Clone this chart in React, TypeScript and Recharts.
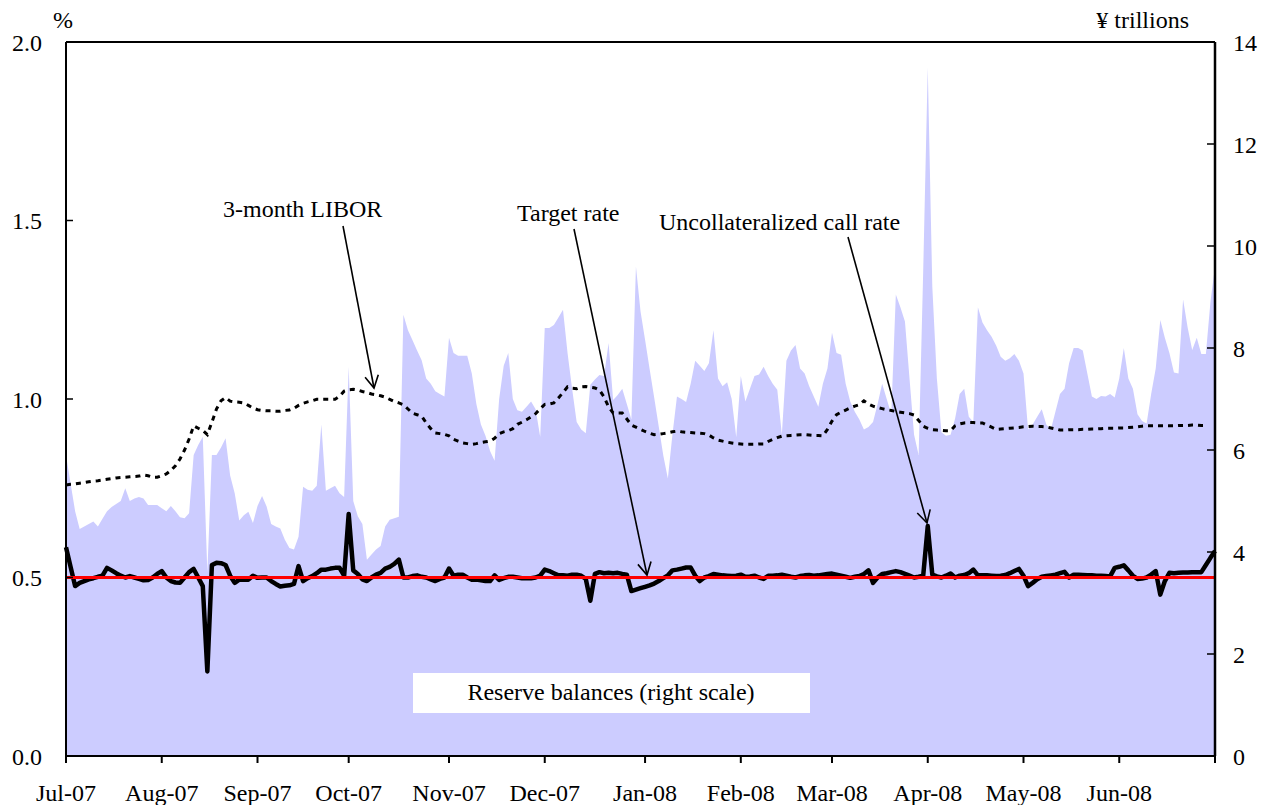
import { ComposedChart, Area, Line, XAxis, YAxis, ReferenceLine } from "recharts"

// month ticks (business-day index where each month starts)
const monthLabels = [
  "Jul-07", "Aug-07", "Sep-07", "Oct-07", "Nov-07", "Dec-07",
  "Jan-08", "Feb-08", "Mar-08", "Apr-08", "May-08", "Jun-08",
]
const monthStartIndex = [0, 21, 42, 62, 84, 105, 127, 148, 168, 189, 210, 231]
const lastIndex = 252

const percentTicks = [0, 0.5, 1, 1.5, 2]
const trillionTicks = [0, 2, 4, 6, 8, 10, 12, 14]

const TARGET_RATE = 0.5

// reserve balances, ¥ trillions (right scale)
const reserveBalances = [
  5.9, 5.35, 4.8, 4.45, 4.5, 4.55, 4.6, 4.5, 4.65, 4.8,
  4.88, 4.94, 5.0, 5.25, 5.0, 5.05, 5.08, 5.05, 4.92, 4.92,
  4.92, 4.86, 4.8, 4.9, 4.8, 4.68, 4.66, 4.76, 5.9, 6.1,
  6.26, 3.6, 5.9, 5.9, 6.05, 6.23, 5.5, 5.15, 4.62, 4.72,
  4.79, 4.57, 4.9, 5.1, 4.89, 4.55, 4.5, 4.46, 4.24, 4.08,
  4.05, 4.3, 5.28, 5.22, 5.2, 5.3, 6.5, 5.2, 5.25, 5.3,
  5.15, 5.08, 7.63, 5.0, 4.7, 4.55, 3.85, 3.95, 4.05, 4.12,
  4.5, 4.63, 4.66, 4.69, 8.65, 8.35, 8.15, 7.95, 7.76, 7.4,
  7.3, 7.15, 7.1, 7.05, 8.2, 7.9, 7.85, 7.85, 7.85, 7.5,
  6.9, 6.5, 6.28, 5.98, 5.79, 7.0, 7.65, 7.9, 7.0, 6.78,
  6.75, 6.85, 6.95, 6.8, 6.26, 8.39, 8.39, 8.45, 8.6, 8.75,
  7.9, 7.2, 6.55, 6.4, 6.33, 7.28, 7.38, 7.47, 7.45, 8.1,
  6.98, 7.08, 7.2, 6.9, 6.6, 9.6, 8.72, 8.16, 7.59, 7.03,
  6.46, 5.89, 5.44, 6.3, 7.05, 7.0, 6.94, 7.3, 7.75, 7.65,
  7.55, 7.7, 8.35, 7.4, 7.25, 7.33, 7.0, 6.25, 7.45, 6.95,
  7.2, 7.45, 7.48, 7.63, 7.45, 7.3, 7.18, 6.3, 7.75, 7.95,
  8.06, 7.6, 7.5, 7.25, 7.05, 6.85, 7.3, 7.6, 8.3, 7.9,
  7.87, 7.3, 6.95, 6.75, 6.6, 6.4, 6.45, 6.55, 6.9, 7.3,
  7.0, 6.7, 9.05, 8.8, 8.52, 7.4, 6.3, 5.9, 9.5, 13.5,
  9.2, 7.4, 6.35, 6.28, 6.3, 6.62, 7.1, 7.2, 6.65, 6.55,
  8.8, 8.5, 8.35, 8.22, 8.05, 7.83, 7.75, 7.8, 7.88, 7.75,
  7.5, 6.4, 6.5, 6.65, 6.8, 6.5, 6.4, 6.75, 7.1, 7.2,
  7.7, 8.0, 8.0, 7.95, 7.5, 7.05, 7.0, 7.06, 7.05, 7.1,
  7.03, 7.4, 8.0, 7.4, 7.2, 6.7, 6.57, 6.52, 7.1, 7.6,
  8.55, 8.2, 7.9, 7.52, 7.5, 8.95, 8.4, 7.96, 8.2, 7.88,
  7.88, 8.9, 9.6,
]

// uncollateralized overnight call rate, %
const callRate = [
  0.585, 0.53, 0.476, 0.485, 0.49, 0.495, 0.498, 0.502, 0.505, 0.527,
  0.52, 0.512, 0.505, 0.5, 0.504, 0.5, 0.496, 0.492, 0.493, 0.5,
  0.51, 0.518, 0.5, 0.49, 0.486, 0.485, 0.5, 0.515, 0.524, 0.5,
  0.476, 0.237, 0.535, 0.541, 0.54, 0.535, 0.505, 0.485, 0.494, 0.494,
  0.494, 0.505, 0.499, 0.5, 0.5, 0.49, 0.482, 0.475, 0.477, 0.478,
  0.482, 0.532, 0.49, 0.498, 0.504, 0.512, 0.522, 0.522, 0.525, 0.527,
  0.527, 0.505, 0.678, 0.52, 0.51, 0.495, 0.49, 0.5, 0.508, 0.513,
  0.525, 0.53, 0.538, 0.55, 0.5, 0.5, 0.504, 0.506, 0.502, 0.5,
  0.495, 0.49, 0.496, 0.5, 0.525, 0.505, 0.508, 0.508, 0.5, 0.494,
  0.494, 0.492, 0.49, 0.49, 0.506, 0.493, 0.498, 0.502, 0.502, 0.5,
  0.498, 0.498, 0.498, 0.5, 0.505, 0.522, 0.518, 0.512, 0.506, 0.506,
  0.505, 0.508, 0.508, 0.505, 0.496, 0.435, 0.51, 0.515, 0.512, 0.513,
  0.512, 0.513, 0.51, 0.508, 0.462, 0.466, 0.47, 0.474, 0.478, 0.483,
  0.49, 0.498, 0.506, 0.52, 0.522, 0.525, 0.528, 0.528, 0.505, 0.49,
  0.5, 0.504, 0.51, 0.508, 0.506, 0.505, 0.504, 0.505, 0.508, 0.502,
  0.503, 0.505, 0.5, 0.496, 0.505, 0.505, 0.506, 0.508, 0.505, 0.502,
  0.5, 0.504, 0.506, 0.507, 0.505, 0.506, 0.508, 0.51, 0.511, 0.508,
  0.505, 0.502, 0.499, 0.502, 0.504, 0.51, 0.52, 0.485, 0.5, 0.51,
  0.512, 0.515, 0.518, 0.515, 0.51, 0.505, 0.5, 0.502, 0.505, 0.644,
  0.508, 0.503, 0.5, 0.505, 0.511, 0.5, 0.505, 0.507, 0.512, 0.522,
  0.506, 0.506, 0.506, 0.505, 0.504, 0.505, 0.507, 0.512, 0.518, 0.524,
  0.505, 0.476, 0.485, 0.495, 0.502, 0.504, 0.506, 0.508, 0.512, 0.516,
  0.5, 0.508, 0.508, 0.507, 0.506, 0.506, 0.505, 0.505, 0.504, 0.503,
  0.527, 0.53, 0.534, 0.52, 0.505, 0.496, 0.497, 0.5, 0.508, 0.518,
  0.452, 0.49, 0.513, 0.512, 0.513, 0.514, 0.514, 0.515, 0.515, 0.515,
  0.535, 0.555, 0.574,
]

// 3-month yen LIBOR, %
const libor3m = [
  0.759, 0.761, 0.762, 0.764, 0.766, 0.768, 0.77, 0.771, 0.773, 0.775,
  0.777, 0.779, 0.78, 0.781, 0.782, 0.783, 0.784, 0.787, 0.785, 0.781,
  0.781, 0.785, 0.79, 0.8, 0.813, 0.832, 0.857, 0.888, 0.925, 0.918,
  0.912, 0.9, 0.935, 0.972, 0.995, 1.004, 0.994, 0.992, 0.991, 0.989,
  0.982, 0.975, 0.97, 0.968, 0.967, 0.967, 0.966, 0.966, 0.968, 0.969,
  0.974, 0.982, 0.988, 0.992, 0.995, 0.999, 0.999, 0.999, 0.999, 0.999,
  1.008, 1.022, 1.026, 1.027, 1.025, 1.021, 1.018, 1.014, 1.012, 1.009,
  1.005, 0.999, 0.993, 0.989, 0.984, 0.972, 0.96, 0.956, 0.952, 0.933,
  0.917, 0.905, 0.903, 0.901, 0.897, 0.887, 0.882, 0.877, 0.875, 0.873,
  0.875, 0.878, 0.88, 0.882, 0.89, 0.903, 0.908, 0.911, 0.917, 0.929,
  0.935, 0.942, 0.95, 0.959, 0.973, 0.985, 0.986, 0.989, 1.003, 1.018,
  1.034, 1.03, 1.029, 1.034, 1.035, 1.033, 1.031, 1.025, 1.006, 0.978,
  0.961, 0.961, 0.961, 0.944, 0.927, 0.921, 0.915, 0.909, 0.904, 0.9,
  0.901, 0.903, 0.905, 0.908, 0.91, 0.908, 0.907, 0.906, 0.905, 0.904,
  0.903, 0.899, 0.891, 0.885, 0.882, 0.879, 0.877, 0.875, 0.874, 0.873,
  0.873, 0.873, 0.874, 0.874, 0.881, 0.887, 0.892, 0.896, 0.897, 0.898,
  0.899, 0.9, 0.9, 0.899, 0.898, 0.898, 0.897, 0.915, 0.938, 0.956,
  0.963, 0.969, 0.975, 0.98, 0.984, 0.995, 0.986, 0.98, 0.976, 0.973,
  0.97, 0.968, 0.965, 0.963, 0.961, 0.959, 0.955, 0.94, 0.924, 0.918,
  0.914, 0.913, 0.912, 0.911, 0.911, 0.925, 0.93, 0.933, 0.934, 0.934,
  0.933, 0.933, 0.927, 0.921, 0.915, 0.916, 0.917, 0.918, 0.919, 0.92,
  0.922, 0.923, 0.924, 0.923, 0.923, 0.922, 0.919, 0.916, 0.913, 0.913,
  0.914, 0.914, 0.914, 0.915, 0.915, 0.916, 0.916, 0.917, 0.918, 0.918,
  0.918, 0.919, 0.919, 0.92, 0.921, 0.922, 0.924, 0.925, 0.925, 0.925,
  0.925, 0.925, 0.925, 0.925, 0.926, 0.926, 0.926, 0.927, 0.927, 0.926,
  0.926, null, null,
]

const data = reserveBalances.map((r, i) => ({
  day: i,
  reserves: r,
  call: callRate[i],
  libor: libor3m[i],
}))

const FONT = '"Liberation Serif", "Times New Roman", serif'

function Arrow({ x1, y1, x2, y2 }: { x1: number; y1: number; x2: number; y2: number }) {
  const a = Math.atan2(y2 - y1, x2 - x1)
  const len = 14
  const spread = 0.5
  const ax = x2 - len * Math.cos(a - spread)
  const ay = y2 - len * Math.sin(a - spread)
  const bx = x2 - len * Math.cos(a + spread)
  const by = y2 - len * Math.sin(a + spread)
  return (
    <g stroke="#000" strokeWidth={1.6} fill="none">
      <line x1={x1} y1={y1} x2={x2} y2={y2} />
      <polyline points={`${ax},${ay} ${x2},${y2} ${bx},${by}`} />
    </g>
  )
}

export default function App() {
  const tickStyle = { fill: "#000", fontSize: 24, fontFamily: FONT }
  return (
    <div style={{ position: "relative", width: 1262, height: 805, fontFamily: FONT }}>
      <style>{"body{margin:0}"}</style>
      <ComposedChart
        width={1262}
        height={805}
        data={data}
        margin={{ top: 42, right: 0, bottom: 0, left: 16 }}
      >
        <XAxis
          dataKey="day"
          type="number"
          domain={[0, lastIndex]}
          ticks={[...monthStartIndex, lastIndex]}
          interval={0}
          tickFormatter={(v: number) => monthLabels[monthStartIndex.indexOf(v)] ?? ""}
          height={49}
          axisLine={{ stroke: "#000", strokeWidth: 2 }}
          tickLine={{ stroke: "#000", strokeWidth: 2 }}
          tickSize={7}
          tickMargin={21}
          tick={tickStyle}
        />
        <YAxis
          yAxisId="left"
          domain={[0, 2]}
          ticks={percentTicks}
          interval={0}
          tickFormatter={(v: number) => v.toFixed(1)}
          width={50}
          axisLine={{ stroke: "#000", strokeWidth: 2 }}
          tickLine={{ stroke: "#000", strokeWidth: 1.5 }}
          tickSize={-7}
          tickMargin={31}
          tick={tickStyle}
        />
        <YAxis
          yAxisId="right"
          orientation="right"
          domain={[0, 14]}
          ticks={trillionTicks}
          interval={0}
          width={47}
          axisLine={{ stroke: "#000", strokeWidth: 2.5 }}
          tickLine={{ stroke: "#000", strokeWidth: 1.5 }}
          tickSize={-8}
          tickMargin={26}
          tick={{ ...tickStyle, textAnchor: "start" }}
        />
        <Area
          yAxisId="right"
          type="linear"
          dataKey="reserves"
          fill="#ccccff"
          fillOpacity={1}
          stroke="none"
          isAnimationActive={false}
        />
        <Line
          yAxisId="left"
          type="linear"
          dataKey="libor"
          stroke="#000"
          strokeWidth={3}
          strokeDasharray="5 5"
          dot={false}
          isAnimationActive={false}
        />
        <Line
          yAxisId="left"
          type="linear"
          dataKey="call"
          stroke="#000"
          strokeWidth={4.5}
          strokeLinejoin="round"
          dot={false}
          isAnimationActive={false}
        />
        <ReferenceLine yAxisId="left" y={TARGET_RATE} stroke="#ff0000" strokeWidth={3} />
        <ReferenceLine yAxisId="left" y={2} stroke="#000" strokeWidth={2} />
      </ComposedChart>

      <svg
        width={1262}
        height={805}
        style={{ position: "absolute", left: 0, top: 0, pointerEvents: "none" }}
        fontFamily={FONT}
        fontSize={24}
      >
        <text x={63} y={28} textAnchor="middle">%</text>
        <text x={1189} y={28} textAnchor="end">¥ trillions</text>

        <text x={223} y={217}>3-month LIBOR</text>
        <Arrow x1={343} y1={226} x2={374} y2={388} />

        <text x={517} y={221}>Target rate</text>
        <Arrow x1={574} y1={229} x2={647} y2={575} />

        <text x={659} y={230}>Uncollateralized call rate</text>
        <Arrow x1={848} y1={237} x2={927} y2={523} />

        <rect x={413} y={673} width={397} height={40} fill="#fff" />
        <text x={611} y={700} textAnchor="middle">Reserve balances (right scale)</text>
      </svg>
    </div>
  )
}
